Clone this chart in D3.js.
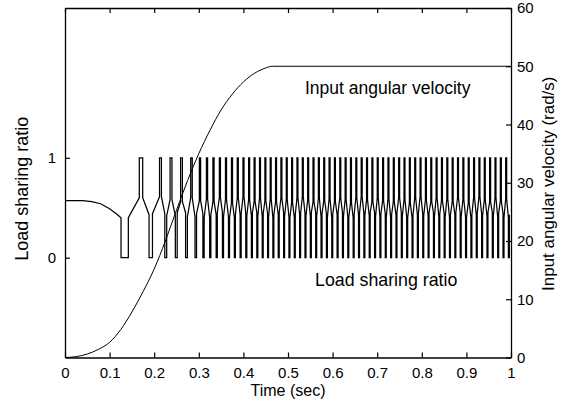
<!DOCTYPE html>
<html><head><meta charset="utf-8">
<script src="https://cdn.jsdelivr.net/npm/d3@7"></script>
<style>
body{margin:0;background:#fff}
text{font-family:Arial,"Liberation Sans",Helvetica,sans-serif;fill:#000}
</style>
</head><body>
<svg id="chart" width="564" height="404"></svg>
<script>
// ---------------- data ----------------
const timeTicks = [0, 0.1, 0.2, 0.3, 0.4, 0.5, 0.6, 0.7, 0.8, 0.9, 1];
const timeTickLabels = ["0", "0.1", "0.2", "0.3", "0.4", "0.5", "0.6", "0.7", "0.8", "0.9", "1"];
const ratioTicks = [0, 1];
const ratioTickLabels = ["0", "1"];
const velocityTicks = [0, 10, 20, 30, 40, 50, 60];
const velocityTickLabels = ["0", "10", "20", "30", "40", "50", "60"];

// Input angular velocity (rad/s)
const velocityTime   = [0, 0.025, 0.05, 0.075, 0.1, 0.125, 0.15, 0.175, 0.2, 0.225, 0.25, 0.275, 0.3, 0.325, 0.35, 0.375, 0.4, 0.425, 0.45, 0.465, 1.0];
const velocityValues = [0, 0.15, 0.6, 1.4, 2.6, 4.8, 7.8, 11.3, 15.2, 20.0, 25.3, 30.4, 35.0, 39.0, 42.5, 45.2, 47.3, 48.8, 49.7, 50, 50];

// Load sharing ratio: initial smooth part
const ratioLeadTime  = [0, 0.04, 0.06, 0.08, 0.1, 0.115, 0.1256];
const ratioLeadValue = [0.57, 0.57, 0.562, 0.54, 0.49, 0.44, 0.40];
// first zero interval
const firstZeroStart = 0.1256, firstZeroEnd = 0.142;
// times (s) of peaks at ratio = 1
const topSpikes = [0.1704, 0.2141, 0.2377, 0.2612, 0.2836, 0.3027, 0.3184, 0.3330, 0.3473, 0.3610,
  0.3744, 0.3874, 0.4002, 0.4128, 0.4251, 0.4372, 0.4493, 0.4612, 0.4732, 0.4852,
  0.4972, 0.5092, 0.5212, 0.5332, 0.5452, 0.5572, 0.5692, 0.5812, 0.5932, 0.6052,
  0.6172, 0.6292, 0.6412, 0.6532, 0.6652, 0.6772, 0.6892, 0.7012, 0.7132, 0.7252,
  0.7372, 0.7492, 0.7612, 0.7732, 0.7852, 0.7972, 0.8092, 0.8212, 0.8332, 0.8452,
  0.8572, 0.8692, 0.8812, 0.8932, 0.9052, 0.9172, 0.9292, 0.9412, 0.9532, 0.9652,
  0.9772, 0.9892];
// times (s) of dips at ratio = 0 (after each peak)
const bottomSpikes = [0.1923, 0.2259, 0.2495, 0.2724, 0.2932, 0.3106, 0.3257, 0.3402, 0.3542, 0.3677,
  0.3809, 0.3938, 0.4065, 0.4190, 0.4312, 0.4433, 0.4553, 0.4672, 0.4792, 0.4912,
  0.5032, 0.5152, 0.5272, 0.5392, 0.5512, 0.5632, 0.5752, 0.5872, 0.5992, 0.6112,
  0.6232, 0.6352, 0.6472, 0.6592, 0.6712, 0.6832, 0.6952, 0.7072, 0.7192, 0.7312,
  0.7432, 0.7552, 0.7672, 0.7792, 0.7912, 0.8032, 0.8152, 0.8272, 0.8392, 0.8512,
  0.8632, 0.8752, 0.8872, 0.8992, 0.9112, 0.9232, 0.9352, 0.9472, 0.9592, 0.9712,
  0.9832, 0.9952];
// intermediate (double contact) levels between the dips and peaks
const lowMids  = [0.40, 0.43, 0.44, 0.42, 0.45, 0.41, 0.44, 0.40, 0.43, 0.45, 0.41];
const highMids = [0.60, 0.61, 0.58, 0.56, 0.60, 0.57, 0.59, 0.56, 0.60, 0.58, 0.55];

const annotVelocity = "Input angular velocity";
const annotRatio = "Load sharing ratio";

// ---------------- layout ----------------
const svg = d3.select("#chart");
const L = 65, R = 511, T = 8, B = 357.5;
const x = d3.scaleLinear().domain([0, 1]).range([L, R]);
const yR = d3.scaleLinear().domain([-1, 2.5]).range([B, T]);
const yV = d3.scaleLinear().domain([0, 60]).range([B, T]);

svg.append("defs").append("clipPath").attr("id", "clip")
  .append("rect").attr("x", L).attr("y", T - 1).attr("width", R - L).attr("height", B - T + 2);

// build ratio vertex list
const ratioPts = [];
ratioLeadTime.forEach((t, i) => ratioPts.push([t, ratioLeadValue[i]]));
ratioPts.push([firstZeroStart, 0], [firstZeroEnd, 0], [firstZeroEnd, lowMids[0]]);
topSpikes.forEach((tc, i) => {
  const next = bottomSpikes[i];
  const per = (i + 1 < topSpikes.length ? topSpikes[i + 1] : tc + 0.012) - tc;
  const h = Math.min(per * 0.09, 0.0038);
  const hi = highMids[i % highMids.length];
  const lo = lowMids[(i + 1) % lowMids.length];
  ratioPts.push([tc - h, hi], [tc - h, 1], [tc + h, 1], [tc + h, hi]);
  ratioPts.push([next - h, lo], [next - h, 0], [next + h, 0], [next + h, lowMids[(i + 2) % lowMids.length]]);
});

const g = svg.append("g").attr("clip-path", "url(#clip)");
g.append("path")
  .attr("d", d3.line().x(d => x(d[0])).y(d => yR(d[1]))(ratioPts))
  .attr("fill", "none").attr("stroke", "#000").attr("stroke-width", 1.25);

const velData = velocityTime.map((t, i) => [t, velocityValues[i]]);
g.append("path")
  .attr("d", d3.line().x(d => x(d[0])).y(d => yV(d[1])).curve(d3.curveMonotoneX)(velData))
  .attr("fill", "none").attr("stroke", "#000").attr("stroke-width", 1);

// ---------------- axes ----------------
const tickFont = "15px";
const bottomAxis = d3.axisBottom(x).tickValues(timeTicks).tickFormat((d, i) => timeTickLabels[i]).tickSizeInner(-5).tickSizeOuter(0).tickPadding(10);
const topAxis = d3.axisTop(x).tickValues(timeTicks).tickFormat("").tickSizeInner(-5).tickSizeOuter(0);
const leftAxis = d3.axisLeft(yR).tickValues(ratioTicks).tickFormat((d, i) => ratioTickLabels[i]).tickSizeInner(-5).tickSizeOuter(0).tickPadding(9);
const rightAxis = d3.axisRight(yV).tickValues(velocityTicks).tickFormat((d, i) => velocityTickLabels[i]).tickSizeInner(-5).tickSizeOuter(0).tickPadding(6);

function style(sel) {
  sel.select(".domain").attr("stroke", "#000").attr("stroke-width", 1.3);
  sel.selectAll(".tick line").attr("stroke", "#000").attr("stroke-width", 1.2);
  sel.selectAll(".tick text").style("font-size", tickFont).style("font-family", "Arial, 'Liberation Sans', sans-serif").attr("fill", "#000");
}
svg.append("g").attr("transform", `translate(0,${B})`).call(bottomAxis).call(style);
svg.append("g").attr("transform", `translate(0,${T})`).call(topAxis).call(style);
svg.append("g").attr("transform", `translate(${L},0)`).call(leftAxis).call(style);
svg.append("g").attr("transform", `translate(${R},0)`).call(rightAxis).call(style);

// ---------------- titles ----------------
svg.append("text").attr("x", (L + R) / 2).attr("y", 396).attr("text-anchor", "middle")
  .style("font-size", "16px").text("Time (sec)");
svg.append("text").attr("transform", `translate(28,${(T + B) / 2 + 6}) rotate(-90)`).attr("text-anchor", "middle")
  .style("font-size", "18px").text("Load sharing ratio");
svg.append("text").attr("transform", `translate(554,${(T + B) / 2 + 1}) rotate(-90)`).attr("text-anchor", "middle")
  .style("font-size", "17px").text("Input angular velocity (rad/s)");
svg.append("text").attr("x", 305).attr("y", 94).style("font-size", "17.5px").text(annotVelocity);
svg.append("text").attr("x", 315).attr("y", 286).style("font-size", "17.8px").text(annotRatio);
</script>
</body></html>
